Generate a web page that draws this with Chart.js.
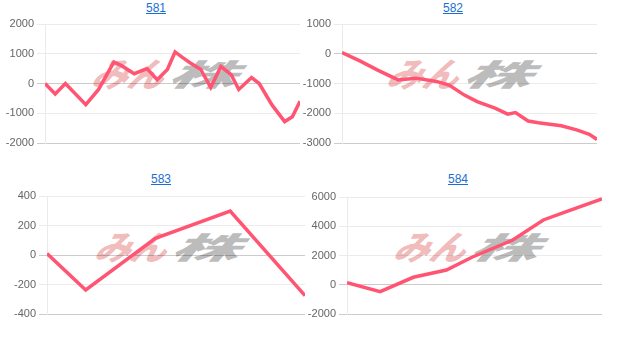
<!DOCTYPE html>
<html>
<head>
<meta charset="utf-8">
<script src="https://cdn.jsdelivr.net/npm/chart.js@4.4.1/dist/chart.umd.min.js"></script>
<style>
  body { margin:0; background:#fff; width:620px; height:345px; overflow:hidden; position:relative; font-family: Arial, "Liberation Sans", sans-serif; }
  a.ttl { position:absolute; font-size:12px; color:#1a6fd1; text-decoration:underline; transform:translateX(-50%); line-height:14px; }
  canvas { position:absolute; z-index:2; }
  .wm { position:absolute; z-index:1; white-space:nowrap; font-family:"Noto Sans CJK JP"; font-weight:900; font-style:italic; height:28px; }
  .wm span { display:inline-block; transform-origin:left top; position:absolute; top:0; }
  .wm .p { left:0; color:rgba(228,130,130,0.55); font-size:34px; line-height:30px; transform:skewX(-16deg) scaleX(1.05); }
  .wm .g { left:76px; color:rgba(130,130,130,0.55); font-size:30px; line-height:30px; transform:skewX(-16deg) scaleX(2.25); }
</style>
</head>
<body>

<a class="ttl" href="#" style="left:156px;top:1px">581</a>
<a class="ttl" href="#" style="left:453px;top:1px">582</a>
<a class="ttl" href="#" style="left:161px;top:172px">583</a>
<a class="ttl" href="#" style="left:458px;top:172px">584</a>

<div class="wm" style="left:98px;top:58px"><span class="p">みん</span><span class="g">株</span></div>
<div class="wm" style="left:393px;top:58px"><span class="p">みん</span><span class="g">株</span></div>
<div class="wm" style="left:101px;top:231px"><span class="p">みん</span><span class="g">株</span></div>
<div class="wm" style="left:400px;top:231px"><span class="p">みん</span><span class="g">株</span></div>

<canvas id="c581"></canvas>
<canvas id="c582"></canvas>
<canvas id="c583"></canvas>
<canvas id="c584"></canvas>

<script>
// position along the period (0-100) and value
var x581 = [0, 4, 8, 16, 21, 27, 30, 35, 40, 44, 48, 51, 54, 57, 61, 65, 69, 73, 76, 81, 84, 89, 94, 97, 100];
var y581 = [0, -350, 0, -710, -200, 720, 600, 330, 500, 130, 470, 1060, 870, 690, 480, -130, 570, 300, -200, 200, 0, -720, -1280, -1120, -600];

var x582 = [0, 7, 14, 22, 29, 37, 42, 48, 53, 60, 65, 68, 73, 77, 86, 92, 97, 100];
var y582 = [40, -240, -550, -880, -820, -930, -1050, -1390, -1610, -1830, -2030, -1980, -2260, -2320, -2420, -2560, -2710, -2880];

var x583 = [0, 15, 42, 71, 100];
var y583 = [10, -237, 113, 298, -276];

var x584 = [0, 13, 26, 39, 49, 65, 77, 86, 100];
var y584 = [140, -470, 510, 1010, 1880, 3060, 4430, 5000, 5870];

var ticks581 = { min: -2000, max: 2000, step: 1000 };
var ticks582 = { min: -3000, max: 1000, step: 1000 };
var ticks583 = { min: -400, max: 400, step: 200 };
var ticks584 = { min: -2000, max: 6000, step: 2000 };

function pts(xs, ys) {
  return xs.map(function(x, i){ return { x: x, y: ys[i] }; });
}

function makeChart(id, box, axisW, xs, ys, t) {
  var cv = document.getElementById(id);
  cv.width = box.w; cv.height = box.h;
  cv.style.left = box.l + 'px'; cv.style.top = box.t + 'px';
  cv.style.width = box.w + 'px'; cv.style.height = box.h + 'px';
  return new Chart(cv, {
    type: 'line',
    data: {
      datasets: [{
        data: pts(xs, ys),
        borderColor: 'rgb(255, 85, 115)',
        backgroundColor: 'rgb(255, 85, 115)',
        borderWidth: 3.5,
        pointRadius: 0,
        fill: false,
        tension: 0
      }]
    },
    options: {
      responsive: false,
      animation: false,
      devicePixelRatio: 1,
      layout: { padding: { top: 10, bottom: 10, right: 10, left: 0 } },
      plugins: { legend: { display: false }, tooltip: { enabled: false } },
      scales: {
        x: { type: 'linear', min: 0, max: 100, display: false },
        y: {
          min: t.min, max: t.max,
          afterFit: function(s){ s.width = axisW; },
          border: { color: 'rgba(0,0,0,0.08)' },
          grid: {
            tickLength: 8,
            color: function(c){
              if (c.tick && (c.tick.value === 0 || c.tick.value === t.min)) return 'rgba(0,0,0,0.2)';
              return 'rgba(0,0,0,0.08)';
            }
          },
          ticks: {
            stepSize: t.step,
            padding: 3,
            color: '#666',
            font: { family: 'Arial, "Liberation Sans"', size: 11 },
            callback: function(v){ return String(v); }
          }
        }
      }
    }
  });
}

makeChart('c581', { l: 0, t: 14, w: 310, h: 139 }, 45, x581, y581, ticks581);
makeChart('c582', { l: 300, t: 14, w: 307, h: 139 }, 42, x582, y582, ticks582);
makeChart('c583', { l: 0, t: 186, w: 315, h: 138 }, 47, x583, y583, ticks583);
makeChart('c584', { l: 305, t: 187, w: 307, h: 137 }, 42, x584, y584, ticks584);
</script>
</body>
</html>
